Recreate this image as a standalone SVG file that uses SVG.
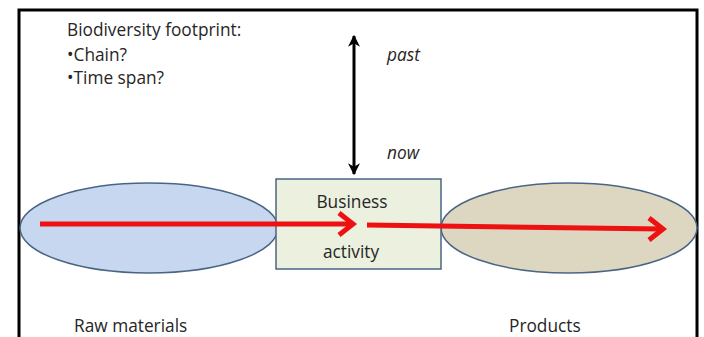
<svg xmlns="http://www.w3.org/2000/svg" width="704" height="337" viewBox="0 0 704 337">
<defs>
<style>
text{font-family:"Open Sans","Liberation Sans",sans-serif;font-size:17.3px;fill:#262626}
.it{font-style:italic}
.red{stroke:#ee1111;stroke-width:5;fill:none;stroke-linecap:butt}
.redh{stroke:#ee1111;stroke-width:5;fill:none;stroke-linejoin:miter}
</style>
<marker id="ah" viewBox="0 0 10 10" refX="9" refY="5" markerWidth="4" markerHeight="4" orient="auto-start-reverse">
<path d="M0,0 L10,5 L0,10 L3,5 Z" fill="#000"/>
</marker>
</defs>
<rect width="704" height="337" fill="#fff"/>
<rect x="19" y="10" width="678" height="340" fill="none" stroke="#000" stroke-width="3"/>
<g id="raw">
<ellipse cx="149" cy="228" rx="129" ry="45" fill="#c6d7ef" stroke="#4a6584" stroke-width="1.5"/>
<text x="74" y="332">Raw materials</text>
</g>
<g id="products">
<ellipse cx="569" cy="228" rx="128" ry="45" fill="#ddd6c1" stroke="#4a6584" stroke-width="1.5"/>
<text x="509" y="332">Products</text>
</g>
<g id="business">
<rect x="276" y="179" width="165" height="90" fill="#ebf1de" stroke="#4a6584" stroke-width="1.5"/>
<text x="352" y="208" text-anchor="middle">Business</text>
<text x="351" y="258" text-anchor="middle">activity</text>
</g>
<g id="notes">
<text x="67" y="36">Biodiversity footprint:</text>
<text x="67" y="61">•Chain?</text>
<text x="67" y="84">•Time span?</text>
<text x="387" y="61" class="it">past</text>
<text x="387" y="159" class="it">now</text>
</g>
<g id="connectors">
<line x1="354" y1="36" x2="354" y2="174" stroke="#000" stroke-width="3" marker-start="url(#ah)" marker-end="url(#ah)"/>
<line x1="40" y1="224" x2="352" y2="224" class="red"/>
<polyline points="339,213 353,224 339,235" class="redh"/>
<line x1="367" y1="225" x2="662" y2="229" class="red"/>
<polyline points="649,218 663,229 649,240" class="redh"/>
</g>
</svg>
